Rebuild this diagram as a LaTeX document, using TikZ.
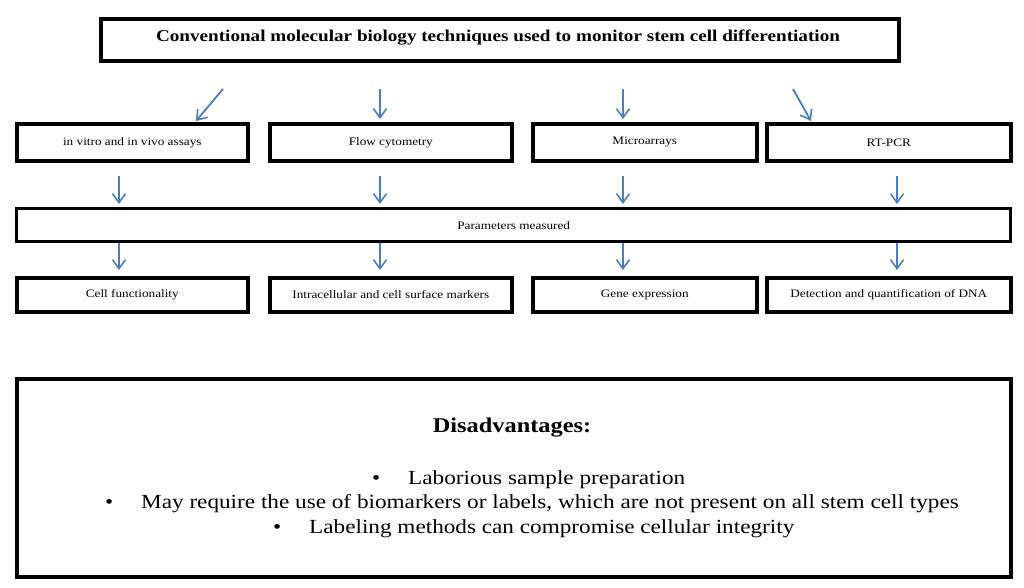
\documentclass[tikz,border=0pt]{standalone}
\usepackage{fontspec}
\setmainfont{Liberation Serif}[FakeStretch=1.16]
\usetikzlibrary{arrows.meta}
\definecolor{arrblue}{HTML}{4A7EBB}
\tikzset{
  box/.style={draw=black, line width=3.6pt, inner sep=0pt, anchor=north west},
  small/.style={font=\fontsize{11.4}{13}\selectfont},
  arr/.style={draw=arrblue, line width=1.8pt, -{Straight Barb[length=9pt,width=13pt,line width=1.6pt]}},
}
\begin{document}
\begin{tikzpicture}[x=1pt,y=-1pt]
\useasboundingbox (0,0) rectangle (1024,588);
% title
\node[box, minimum width=798pt, minimum height=42pt] (t) at (99,17) {};
\node[font=\bfseries\fontsize{16.5}{19}\selectfont] (tt) at (498,38) {Conventional molecular biology techniques used to monitor stem cell differentiation};
% row 1
\node[box, minimum width=231pt, minimum height=37pt, small] (a1) at (15,122) {in vitro and in vivo assays};
\node[box, minimum width=242pt, minimum height=37pt, small] (a2) at (268,122) {Flow cytometry};
\node[box, minimum width=224pt, minimum height=37pt, small] (a3) at (531,122) {Microarrays};
\node[box, minimum width=244pt, minimum height=37pt, small] (a4) at (765,122) {RT-PCR};
% parameters
\node[box, line width=3.4pt, minimum width=994pt, minimum height=33pt, small] (p) at (15,207) {Parameters measured};
% row 3
\node[box, minimum width=231pt, minimum height=34pt, small] (b1) at (15,276) {Cell functionality};
\node[box, minimum width=242pt, minimum height=34pt, small] (b2) at (268,276) {Intracellular and cell surface markers};
\node[box, minimum width=224pt, minimum height=34pt, small] (b3) at (531,276) {Gene expression};
\node[box, minimum width=244pt, minimum height=34pt, small] (b4) at (765,276) {Detection and quantification of DNA};
% bottom
\node[box, minimum width=994pt, minimum height=198pt] (d) at (15,377) {};
\node[font=\bfseries\fontsize{21}{24}\selectfont] (dh) at (512,428) {Disadvantages:};
\node[font=\fontsize{20}{24}\selectfont, anchor=base west, inner sep=0pt] (l1) at (372,484) {\makebox[36pt][l]{•}Laborious sample preparation};
\node[font=\fontsize{20}{24}\selectfont, anchor=base west, inner sep=0pt] (l2) at (105,508) {\makebox[36pt][l]{•}May require the use of biomarkers or labels, which are not present on all stem cell types};
\node[font=\fontsize{20}{24}\selectfont, anchor=base west, inner sep=0pt] (l3) at (273,533) {\makebox[36pt][l]{•}Labeling methods can compromise cellular integrity};
% row 1 arrows
\coordinate (s1) at (223,89);
\coordinate (s2) at (380,89);
\coordinate (s3) at (623,89);
\coordinate (s4) at (793,89);
\coordinate (e1) at (196,121);
\coordinate (e4) at (811,121);
\draw[arr] (s1) -- (e1);
\draw[arr, shorten >=3pt] (s2) -- (s2 |- a2.north);
\draw[arr, shorten >=3pt] (s3) -- (s3 |- a3.north);
\draw[arr] (s4) -- (e4);
% row 2 arrows
\foreach \x/\n in {119/a1,380/a2,623/a3,897/a4}{
  \draw[arr, shorten <=13pt, shorten >=3pt] (\n.south -| \x,0) -- (p.north -| \x,0);
}
% row 3 arrows
\foreach \x/\n in {119/b1,380/b2,623/b3,897/b4}{
  \draw[arr, shorten <=0pt, shorten >=6pt] (p.south -| \x,0) -- (\n.north -| \x,0);
}
\end{tikzpicture}
\end{document}
